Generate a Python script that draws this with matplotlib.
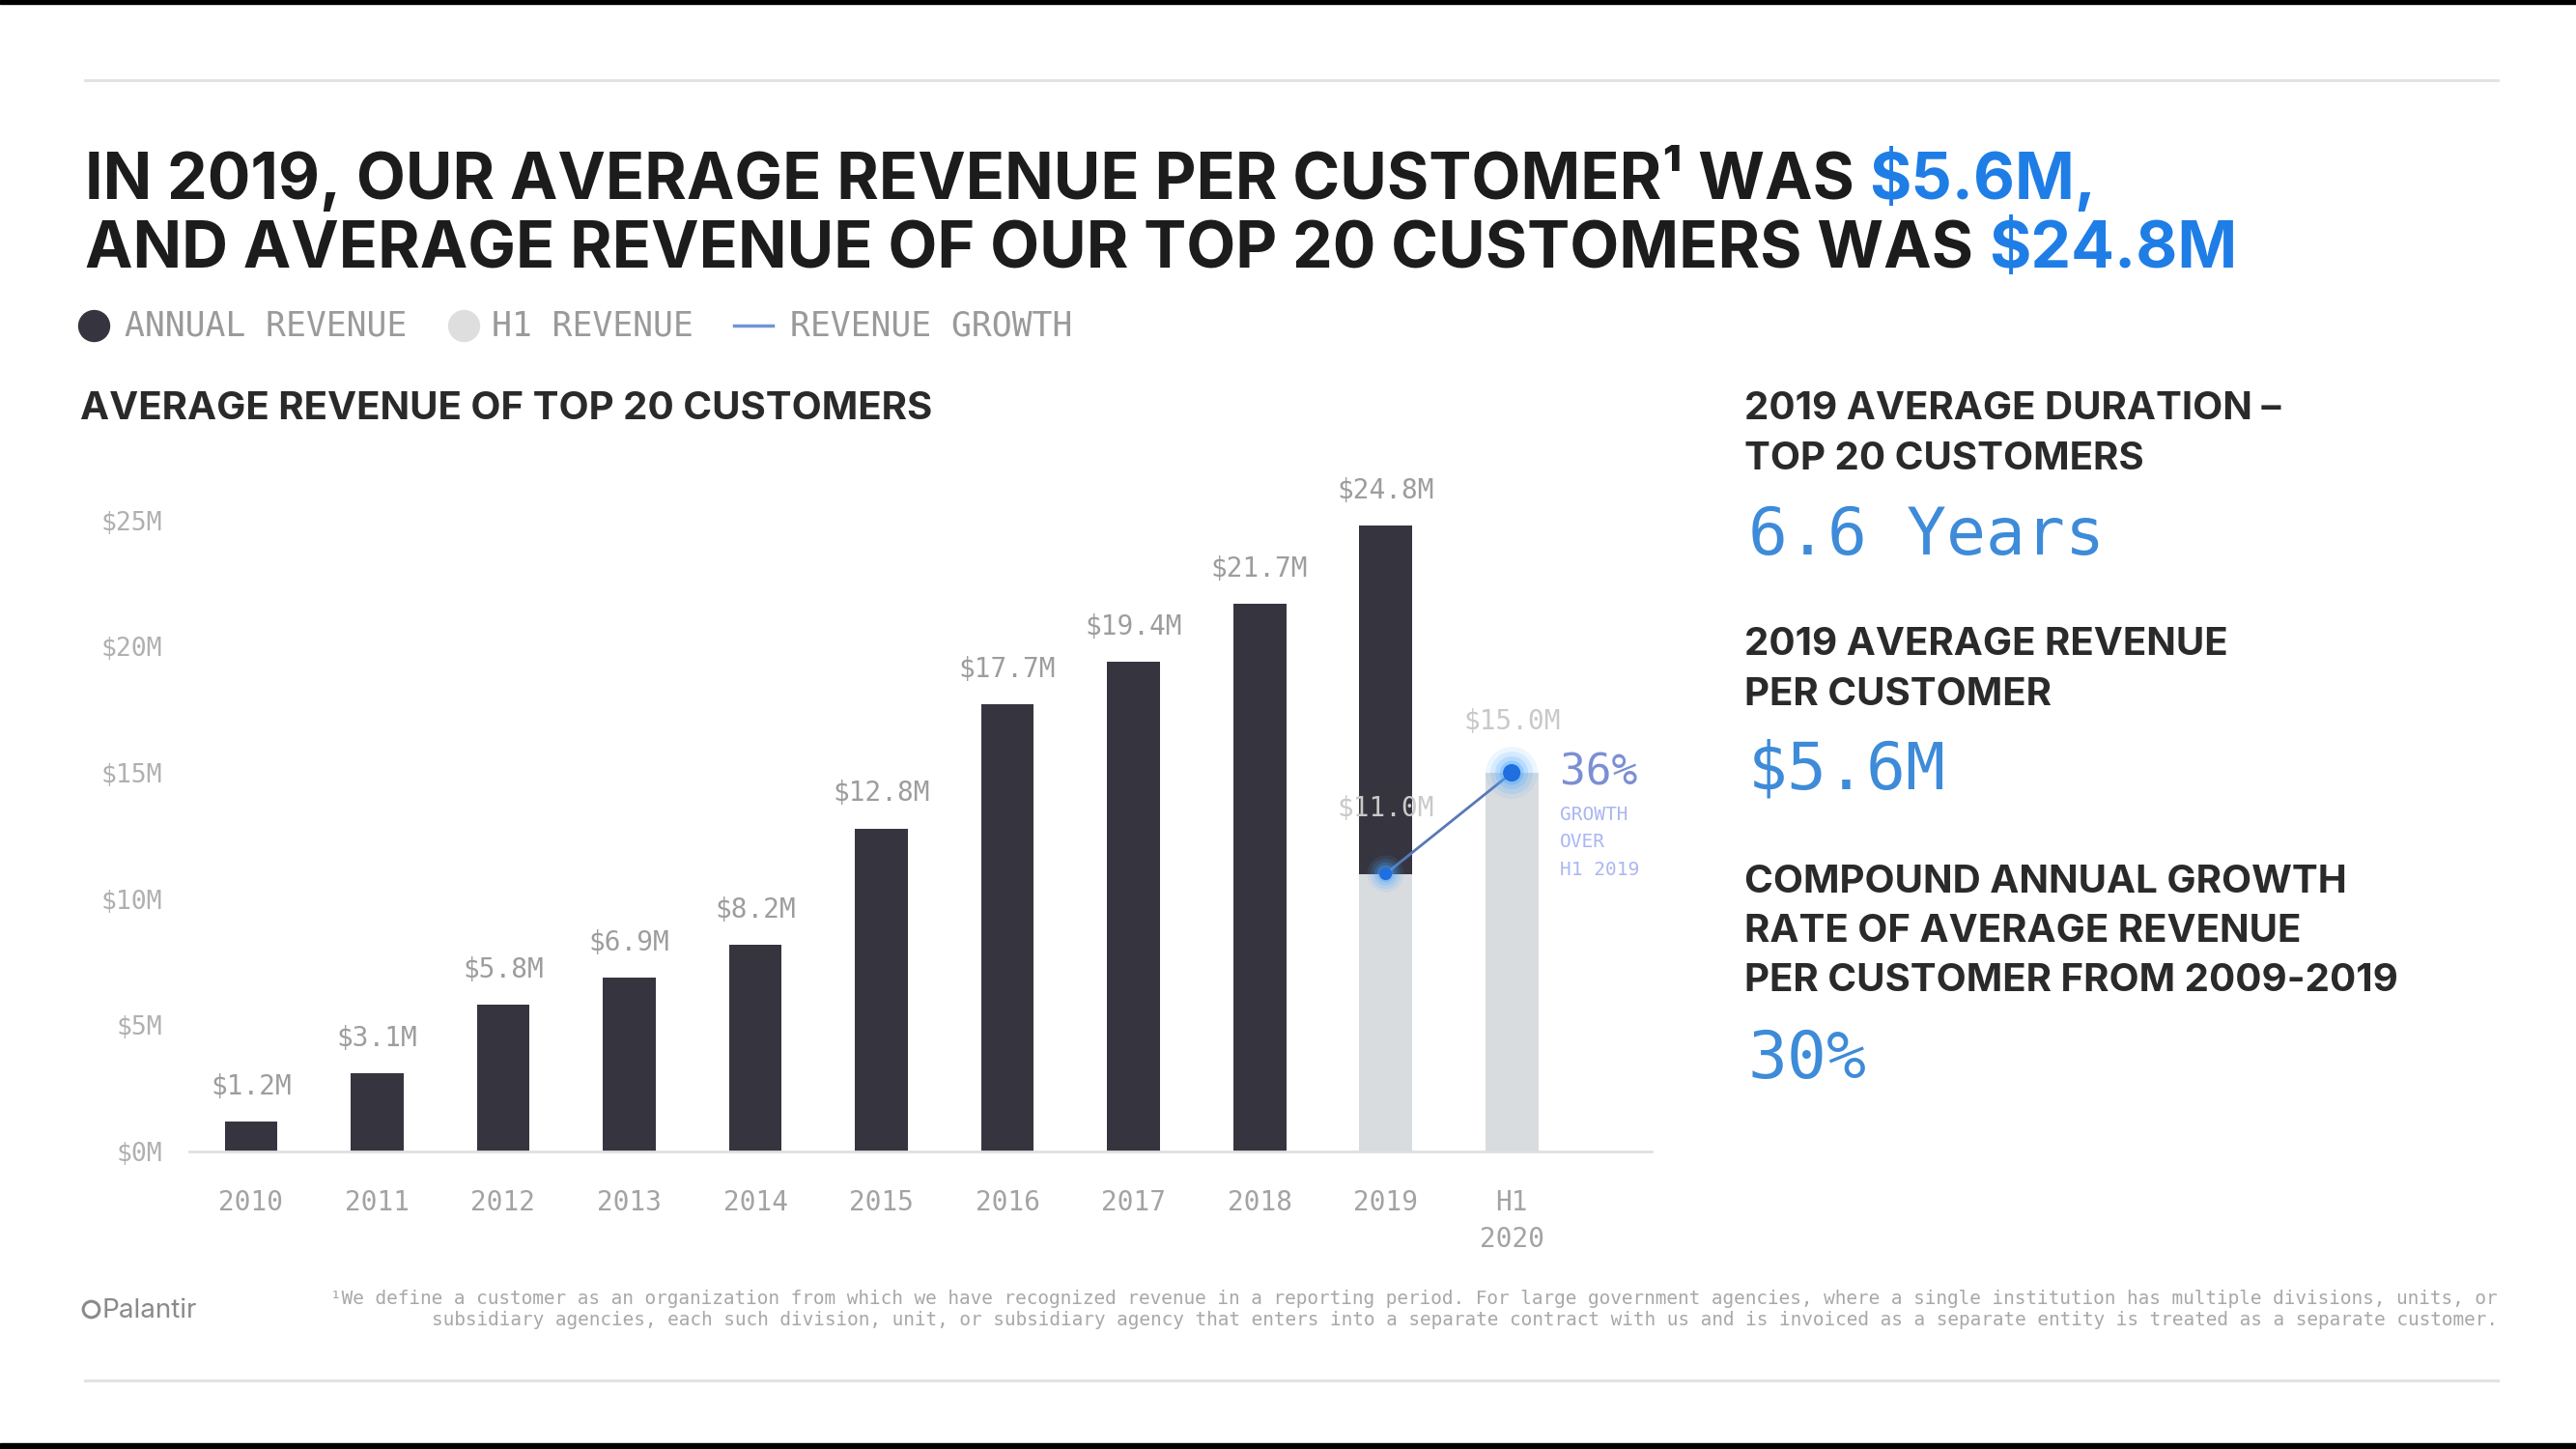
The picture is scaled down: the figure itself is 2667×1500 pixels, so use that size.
import matplotlib
matplotlib.use('Agg')
import matplotlib.pyplot as plt
from matplotlib.lines import Line2D
from matplotlib.patches import Rectangle

# chart data
years = ['2010', '2011', '2012', '2013', '2014', '2015', '2016', '2017', '2018', '2019', 'H1\n2020']
annual = [1.2, 3.1, 5.8, 6.9, 8.2, 12.8, 17.7, 19.4, 21.7, 24.8]
h1_pos = [9, 10]
h1 = [11.0, 15.0]
yticks = [0, 5, 10, 15, 20, 25]
ytick_labels = ['$0M', '$5M', '$10M', '$15M', '$20M', '$25M']
growth = '36%'
growth_note = ['GROWTH', 'OVER', 'H1 2019']

W, H = 2667, 1500
DARK = '#36353f'
LIGHT = '#d9dcdf'
BLUE = '#1f7de6'
SOFT_BLUE = '#3d8bd9'
GRAY = '#a3a3a3'
HEAD = 'Inter'
MONO = 'DejaVu Sans Mono'


def fx(x):
    return x / W


def fy(y):
    return 1 - y / H


fig = plt.figure(figsize=(W / 100, H / 100), dpi=100)
fig.patch.set_facecolor('white')

# frame bits: black edges and gray rules
fig.add_artist(Rectangle((0, fy(4)), 1, 4 / H, transform=fig.transFigure, color='black'))
fig.add_artist(Rectangle((0, 0), 1, 6 / H, transform=fig.transFigure, color='black'))
for yy in [83, 1429]:
    fig.add_artist(Line2D([fx(88), fx(2586)], [fy(yy), fy(yy)], transform=fig.transFigure,
                          color='#e3e3e3', lw=2.2))

# title
t1 = fig.text(fx(88), fy(206), 'IN 2019, OUR AVERAGE REVENUE PER CUSTOMER\u00b9 WAS ',
              family=HEAD, weight='bold', fontsize=50, color='#1c1c1c', va='baseline')
t1b = fig.text(0, 0, '$5.6M,', family=HEAD, weight='bold', fontsize=50, color=BLUE)
t2 = fig.text(fx(88), fy(277), 'AND AVERAGE REVENUE OF OUR TOP 20 CUSTOMERS WAS ',
              family=HEAD, weight='bold', fontsize=50, color='#1c1c1c', va='baseline')
t2b = fig.text(0, 0, '$24.8M', family=HEAD, weight='bold', fontsize=50, color=BLUE)

renderer = fig.canvas.get_renderer()


def fit(texts, target):
    total = sum(t.get_window_extent(renderer).width for t in texts)
    k = target / total
    for t in texts:
        t.set_fontsize(t.get_fontsize() * k)


fit([t2, t2b], 2229)
for t in [t1, t1b]:
    t.set_fontsize(t2.get_fontsize())


def place_after(a, b):
    bb = a.get_window_extent(renderer)
    b.set_position((bb.x1 / W, bb.y0 / H))
    b.set_va('bottom')


place_after(t1, t1b)
place_after(t2, t2b)

# legend
ly = fy(337)
fig.add_artist(Line2D([fx(97)], [ly], transform=fig.transFigure, marker='o', ms=23,
                      color=DARK, lw=0))
fig.text(fx(129), ly, 'ANNUAL REVENUE', family=MONO, fontsize=25, color='#9a9a9a', va='center')
fig.add_artist(Line2D([fx(480)], [ly], transform=fig.transFigure, marker='o', ms=23,
                      color='#dedede', lw=0))
fig.text(fx(509), ly, 'H1 REVENUE', family=MONO, fontsize=25, color='#9a9a9a', va='center')
fig.add_artist(Line2D([fx(760), fx(800)], [ly, ly], transform=fig.transFigure,
                      color='#6f95d8', lw=2.5))
fig.text(fx(818), ly, 'REVENUE GROWTH', family=MONO, fontsize=25, color='#9a9a9a', va='center')

# chart subtitle
sub = fig.text(fx(83), fy(424), 'AVERAGE REVENUE OF TOP 20 CUSTOMERS', family=HEAD,
               weight='bold', fontsize=29, color='#2a2a2a', va='center')

# bar chart
ax = fig.add_axes([196 / W, 308 / H, 1514 / W, 679.4 / H])
x = list(range(len(years)))
ax.bar(x[:len(annual)], annual, width=0.42, color=DARK, zorder=2)
ax.bar(h1_pos, h1, width=0.42, color=LIGHT, zorder=3)
ax.set_xlim(-0.49, 11.11)
ax.set_ylim(0, 26)
ax.set_xticks(x)
ax.set_xticklabels(years, family=MONO, fontsize=20, color=GRAY, linespacing=1.45)
ax.set_yticks(yticks)
ax.set_yticklabels(ytick_labels, family=MONO, fontsize=19, color='#b0b0b0')
ax.tick_params(axis='x', length=0, pad=28)
ax.tick_params(axis='y', length=0, pad=20)
for s in ['top', 'right', 'left']:
    ax.spines[s].set_visible(False)
ax.spines['bottom'].set_color('#e0e0e0')
ax.spines['bottom'].set_linewidth(2)
ax.set_facecolor('none')

for i, v in enumerate(annual):
    ax.annotate(f'${v:.1f}M', (i, v), xytext=(0, 26), textcoords='offset points',
                ha='center', va='center', family=MONO, fontsize=20, color='#9d9d9d')
for p, v, off in zip(h1_pos, h1, [49, 38]):
    ax.annotate(f'${v:.1f}M', (p, v), xytext=(0, off), textcoords='offset points',
                ha='center', va='center', family=MONO, fontsize=20, color='#c9c9c9', zorder=5)

# growth line with glowing dots
ax.plot(h1_pos, h1, color='#5878b8', lw=2, zorder=6)
for s, a in [(1500, 0.10), (1000, 0.14), (600, 0.22), (320, 0.35)]:
    ax.scatter(h1_pos, h1, s=[s * 0.5, s], color='#4aa8ff', alpha=a, lw=0, zorder=7)
ax.scatter(h1_pos, h1, s=[90, 170], color='#1f6fe0', lw=0, zorder=8)

ax.annotate(growth, (10.38, h1[1]), xytext=(0, 0), textcoords='offset points',
            ha='left', va='center', family=MONO, fontsize=32, color='#7b8fd4')
for k, line in enumerate(growth_note):
    ax.annotate(line, (10.38, h1[1]), xytext=(0, -31 - 20.5 * k), textcoords='offset points',
                ha='left', va='center', family=MONO, fontsize=14, color='#aab6f2')

# right panel
rx = fx(1806)
heads = []
for yy, txt in [(424, '2019 AVERAGE DURATION \u2013'), (475, 'TOP 20 CUSTOMERS'),
                (668, '2019 AVERAGE REVENUE'), (720, 'PER CUSTOMER'),
                (913, 'COMPOUND ANNUAL GROWTH'), (964, 'RATE OF AVERAGE REVENUE'),
                (1015, 'PER CUSTOMER FROM 2009-2019')]:
    heads.append(fig.text(rx, fy(yy), txt, family=HEAD, weight='bold', fontsize=29,
                          color='#2a2a2a', va='center'))
fit([heads[-1]], 677)
for t in heads + [sub]:
    t.set_fontsize(heads[-1].get_fontsize())

for yy, txt in [(555, '6.6 Years'), (798, '$5.6M'), (1097, '30%')]:
    fig.text(fx(1810), fy(yy), txt, family=MONO, fontsize=49, color=SOFT_BLUE, va='center')

# footer
fig.add_artist(Line2D([fx(94)], [fy(1355)], transform=fig.transFigure, marker='o', ms=12,
                      mfc='none', mec='#8a8a8a', mew=2.2, lw=0))
fig.text(fx(106), fy(1357), 'Palantir', family=HEAD, fontsize=20, color='#8a8a8a', va='center')
note1 = ('\u00b9We define a customer as an organization from which we have recognized revenue '
         'in a reporting period. For large government agencies, where a single institution '
         'has multiple divisions, units, or')
note2 = ('subsidiary agencies, each such division, unit, or subsidiary agency that enters into '
         'a separate contract with us and is invoiced as a separate entity is treated as a '
         'separate customer.')
n1 = fig.text(fx(2586), fy(1344), note1, family=MONO, fontsize=13, color='#a8a8a8',
              ha='right', va='center')
n2 = fig.text(fx(2586), fy(1366), note2, family=MONO, fontsize=13, color='#a8a8a8',
              ha='right', va='center')
fit([n1], 2246)
n2.set_fontsize(n1.get_fontsize())

fig.savefig('out.png', dpi=100, facecolor='white')
